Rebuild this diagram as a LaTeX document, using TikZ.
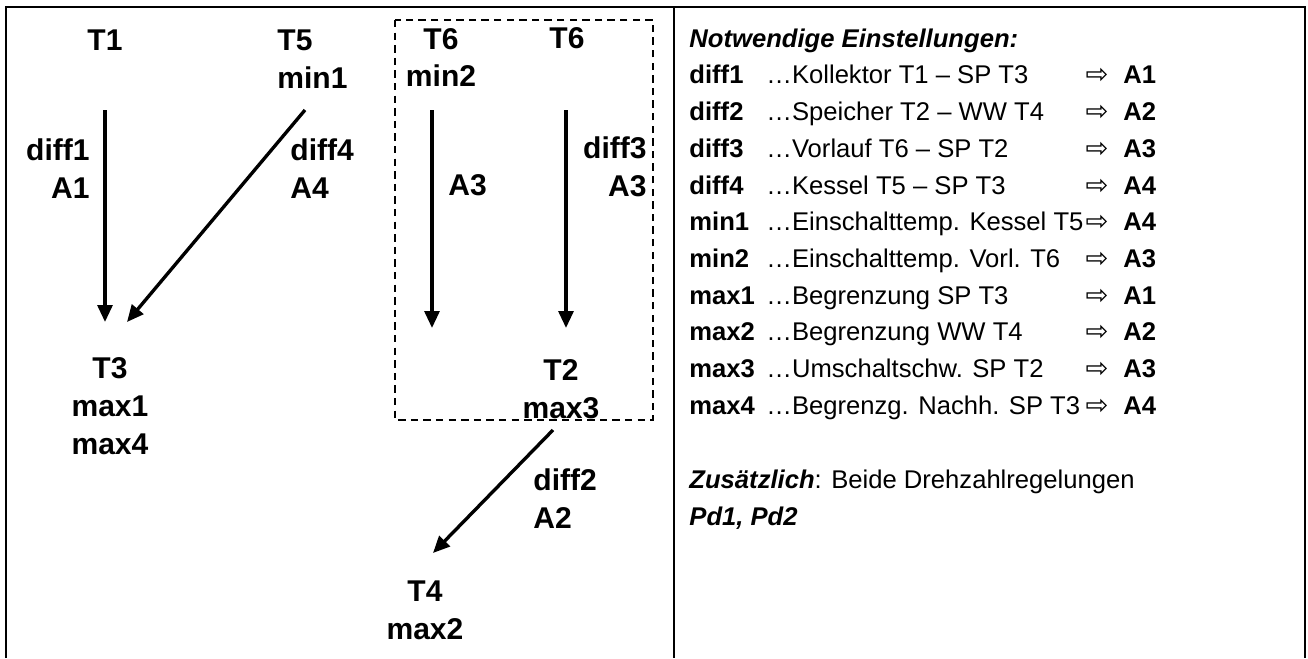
\documentclass[tikz,border=0pt]{standalone}
\usepackage{fontspec}
\setmainfont{Liberation Sans}
\newfontfamily\symfont{DejaVu Sans}
\usetikzlibrary{arrows.meta}

\begin{document}
\begin{tikzpicture}[x=0.4762pt,y=-0.4762pt,lbl/.style={inner sep=0pt, font=\fontsize{14.3}{18}\selectfont\bfseries},flow/.style={-{Triangle[length=8pt,width=7pt]}, line width=1.6pt},row/.style={inner sep=0pt, anchor=base west, font=\fontsize{12.2}{14}\selectfont},key/.style={row, font=\fontsize{12.2}{14}\selectfont\bfseries},pick/.style={inner sep=0pt, font=\symfont\fontsize{13}{14}\selectfont}]
\useasboundingbox (0,0) rectangle (1308,658);
% frame
\draw[line width=1pt] (6,658) -- (6,7) -- (1305,7) -- (1305,658);
\draw[line width=1pt] (674,7) -- (674,658);
\draw[line width=0.6pt, dash pattern=on 3.5pt off 2.5pt] (395,20) rectangle (653,420);
% left side
\node[lbl] (t1) at (105,40) {T1};
\node[lbl, anchor=west, align=left] (t5) at (277,59) {T5\\min1};
\node[lbl, anchor=east, align=right] (d1) at (90,168.5) {diff1\\A1};
\node[lbl, anchor=west, align=left] (d4) at (290,168.5) {diff4\\A4};
\node[lbl, align=center] (t3) at (110,406) {T3\\max1\\max4};
\node[lbl, align=center] (t6a) at (441,57.5) {T6\\min2};
\node[lbl] (t6b) at (567,38) {T6};
\node[lbl, anchor=west] (a3) at (448,185) {A3};
\node[lbl, anchor=east, align=right] (d3) at (647,166.5) {diff3\\A3};
\node[lbl, align=center] (t2) at (561,389) {T2\\max3};
\node[lbl, anchor=west, align=left] (d2) at (533,499) {diff2\\A2};
\node[lbl, align=center] (t4) at (425,610) {T4\\max2};
\coordinate (s1) at (105,110); \coordinate (e1) at (105,322);
\coordinate (s4) at (305,110); \coordinate (e4) at (127,322);
\coordinate (s6) at (432,110); \coordinate (e6) at (432,328);
\coordinate (s3) at (566,110); \coordinate (e3) at (566,328);
\coordinate (s2) at (553,430); \coordinate (e2) at (433,553);
\draw[flow] (s1) -- (e1);
\draw[flow] (s4) -- (e4);
\draw[flow] (s6) -- (e6);
\draw[flow] (s3) -- (e3);
\draw[flow] (s2) -- (e2);
% right side
\node[row, font=\fontsize{12.2}{14}\selectfont\bfseries\itshape] (notw) at (689,47) {Notwendige Einstellungen:};
\node[key] (kdiff1) at (689,83) {diff1}; \node[row] (tdiff1) at (766,83) {…Kollektor T1 – SP T3}; \node[pick] (pdiff1) at (1097,76) {⇨}; \node[key] (adiff1) at (1123,83) {A1};
\node[key] (kdiff2) at (689,120) {diff2}; \node[row] (tdiff2) at (766,120) {…Speicher T2 – WW T4}; \node[pick] (pdiff2) at (1097,113) {⇨}; \node[key] (adiff2) at (1123,120) {A2};
\node[key] (kdiff3) at (689,157) {diff3}; \node[row] (tdiff3) at (766,157) {…Vorlauf T6 – SP T2}; \node[pick] (pdiff3) at (1097,150) {⇨}; \node[key] (adiff3) at (1123,157) {A3};
\node[key] (kdiff4) at (689,194) {diff4}; \node[row] (tdiff4) at (766,194) {…Kessel T5 – SP T3}; \node[pick] (pdiff4) at (1097,187) {⇨}; \node[key] (adiff4) at (1123,194) {A4};
\node[key] (kmin1) at (689,230) {min1}; \node[row] (tmin1) at (766,230) {…Einschalttemp. Kessel T5}; \node[pick] (pmin1) at (1097,223) {⇨}; \node[key] (amin1) at (1123,230) {A4};
\node[key] (kmin2) at (689,267) {min2}; \node[row] (tmin2) at (766,267) {…Einschalttemp. Vorl. T6}; \node[pick] (pmin2) at (1097,260) {⇨}; \node[key] (amin2) at (1123,267) {A3};
\node[key] (kmax1) at (689,304) {max1}; \node[row] (tmax1) at (766,304) {…Begrenzung SP T3}; \node[pick] (pmax1) at (1097,297) {⇨}; \node[key] (amax1) at (1123,304) {A1};
\node[key] (kmax2) at (689,340) {max2}; \node[row] (tmax2) at (766,340) {…Begrenzung WW T4}; \node[pick] (pmax2) at (1097,333) {⇨}; \node[key] (amax2) at (1123,340) {A2};
\node[key] (kmax3) at (689,377) {max3}; \node[row] (tmax3) at (766,377) {…Umschaltschw. SP T2}; \node[pick] (pmax3) at (1097,370) {⇨}; \node[key] (amax3) at (1123,377) {A3};
\node[key] (kmax4) at (689,414) {max4}; \node[row] (tmax4) at (766,414) {…Begrenzg. Nachh. SP T3}; \node[pick] (pmax4) at (1097,407) {⇨}; \node[key] (amax4) at (1123,414) {A4};
\node[row] (extra) at (689,488) {\textbf{\textit{Zusätzlich}}: Beide Drehzahlregelungen};
\node[row] (pd) at (689,525) {\textbf{\textit{Pd1, Pd2}}};
\end{tikzpicture}
\end{document}
